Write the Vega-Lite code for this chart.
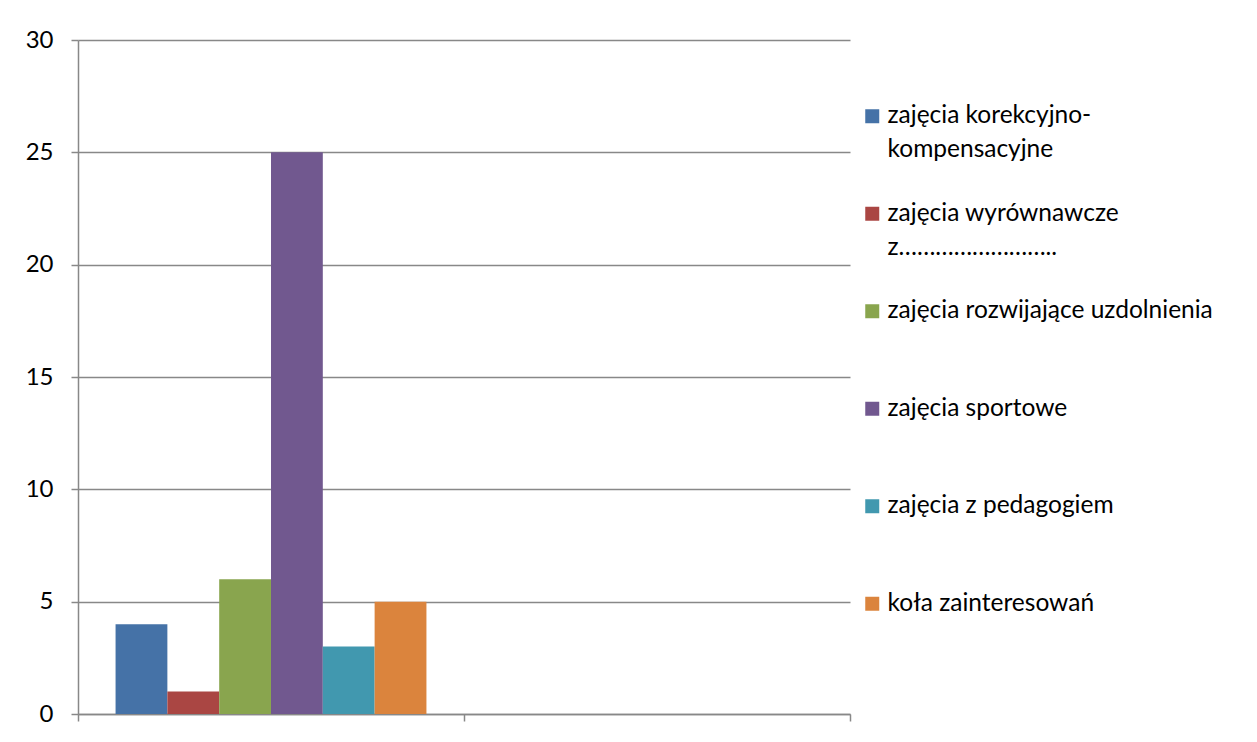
{
  "$schema": "https://vega.github.io/schema/vega-lite/v6.json",
  "width": 772,
  "height": 674,
  "autosize": "none",
  "padding": {"left": 78, "top": 40, "right": 407, "bottom": 28},
  "background": "white",
  "config": {
    "view": {"stroke": null},
    "font": "Lato",
    "style": {"guide-label": {"lineHeight": 34}}
  },
  "data": {
    "values": [
      {"grupa": "1", "kategoria": "zajęcia korekcyjno-kompensacyjne", "liczba": 4},
      {"grupa": "1", "kategoria": "zajęcia wyrównawcze z……………………..", "liczba": 1},
      {"grupa": "1", "kategoria": "zajęcia rozwijające uzdolnienia", "liczba": 6},
      {"grupa": "1", "kategoria": "zajęcia sportowe", "liczba": 25},
      {"grupa": "1", "kategoria": "zajęcia z pedagogiem", "liczba": 3},
      {"grupa": "1", "kategoria": "koła zainteresowań", "liczba": 5}
    ]
  },
  "mark": {"type": "bar"},
  "encoding": {
    "x": {
      "field": "grupa",
      "type": "nominal",
      "scale": {"domain": ["1", "2"], "paddingInner": 0, "paddingOuter": 0},
      "axis": {
        "title": null,
        "labels": false,
        "tickBand": "extent",
        "ticks": true,
        "tickSize": 7,
        "tickColor": "#888888",
        "domainColor": "#888888",
        "tickWidth": 1.5,
        "domainWidth": 1.5,
        "grid": false
      }
    },
    "xOffset": {
      "field": "kategoria",
      "type": "nominal",
      "scale": {
        "domain": ["zajęcia korekcyjno-kompensacyjne", "zajęcia wyrównawcze z……………………..", "zajęcia rozwijające uzdolnienia", "zajęcia sportowe", "zajęcia z pedagogiem", "koła zainteresowań"],
        "paddingInner": 0,
        "paddingOuter": 0.725
      }
    },
    "y": {
      "field": "liczba",
      "type": "quantitative",
      "scale": {"domain": [0, 30], "nice": false},
      "axis": {
        "title": null,
        "values": [0, 5, 10, 15, 20, 25, 30],
        "tickSize": 7,
        "labelPadding": 18,
        "labelFontSize": 24,
        "labelColor": "black",
        "grid": true,
        "gridColor": "#888888",
        "gridWidth": 1.5,
        "tickColor": "#888888",
        "tickWidth": 1.5,
        "domainColor": "#888888",
        "domainWidth": 1.5
      }
    },
    "color": {
      "field": "kategoria",
      "type": "nominal",
      "scale": {
        "domain": ["zajęcia korekcyjno-kompensacyjne", "zajęcia wyrównawcze z……………………..", "zajęcia rozwijające uzdolnienia", "zajęcia sportowe", "zajęcia z pedagogiem", "koła zainteresowań"],
        "range": ["#4572A7", "#AA4643", "#89A54E", "#71588F", "#4198AF", "#DB843D"]
      },
      "legend": {
        "orient": "none",
        "legendX": 782,
        "legendY": 64,
        "title": null,
        "symbolType": "square",
        "symbolSize": 196,
        "symbolStrokeWidth": 0,
        "symbolOpacity": 1,
        "labelFontSize": 24.5,
        "labelColor": "black",
        "labelOffset": 3,
        "labelLimit": 420,
        "rowPadding": 38.5,
        "padding": 0,
        "labelExpr": "datum.label == 'zajęcia korekcyjno-kompensacyjne' ? ['zajęcia korekcyjno-', 'kompensacyjne'] : datum.label == 'zajęcia wyrównawcze z……………………..' ? ['zajęcia wyrównawcze', 'z……………………..'] : [datum.label, ' ']"
      }
    }
  }
}
